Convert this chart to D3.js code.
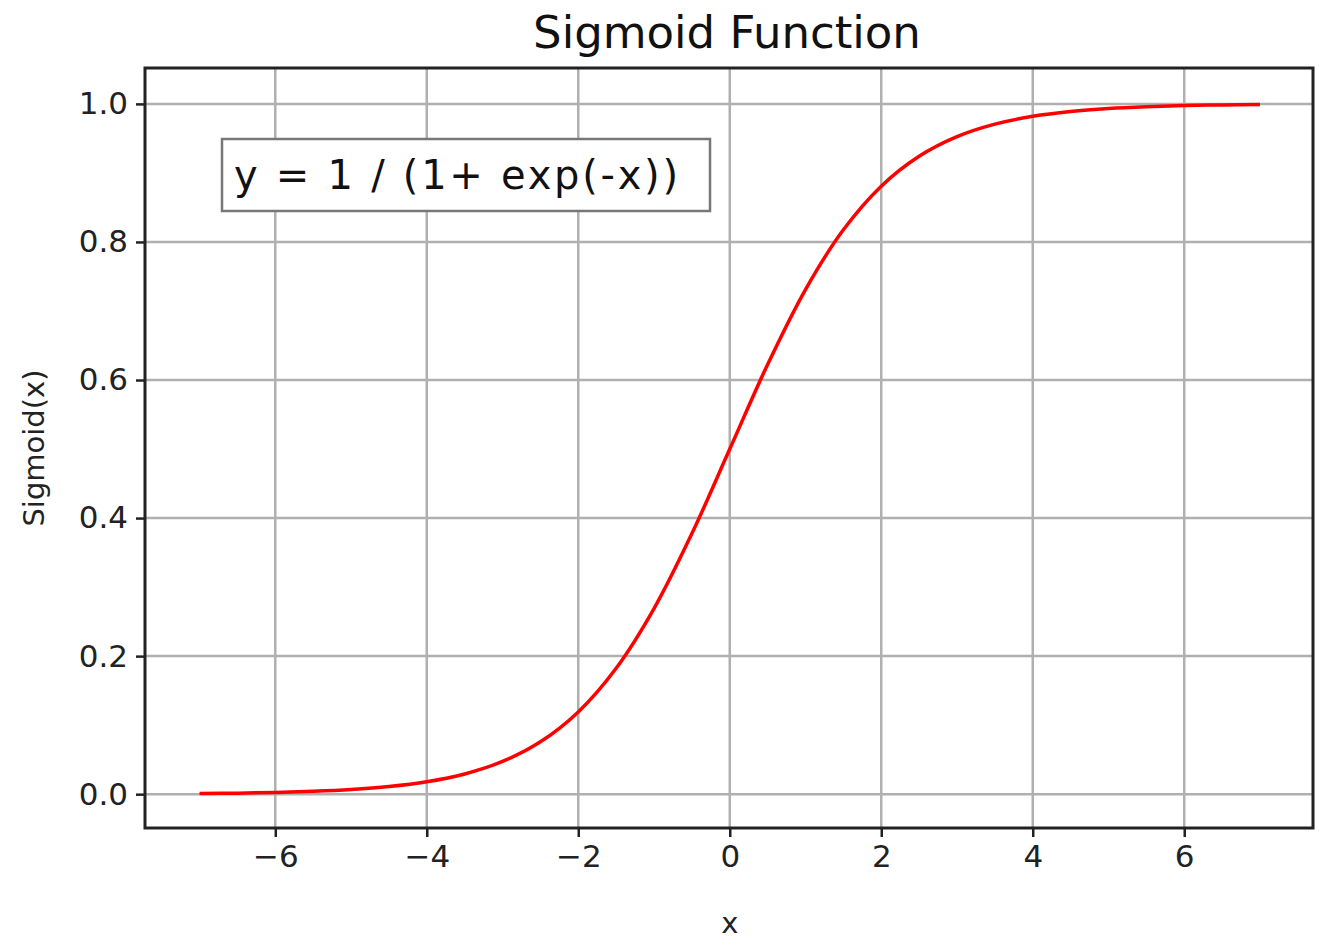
<!DOCTYPE html>
<html><head><meta charset="utf-8">
<script src="https://cdn.jsdelivr.net/npm/d3@7"></script>
<style>body{margin:0;background:#fff}</style></head>
<body><svg id="c" width="1329" height="949"></svg>
<script>
const xValues=[-7,-6.5,-6,-5.5,-5,-4.5,-4,-3.5,-3,-2.5,-2,-1.5,-1,-0.5,0,0.5,1,1.5,2,2.5,3,3.5,4,4.5,5,5.5,6,6.5,7];
const yValues=[0.0009,0.0015,0.0025,0.0041,0.0067,0.011,0.018,0.0293,0.0474,0.0759,0.1192,0.1824,0.2689,0.3775,0.5,0.6225,0.7311,0.8176,0.8808,0.9241,0.9526,0.9707,0.982,0.989,0.9933,0.9959,0.9975,0.9985,0.9991];
const xTicks=[-6,-4,-2,0,2,4,6];
const yTicks=[0,0.2,0.4,0.6,0.8,1.0];
const svg=d3.select("#c");
const L=145,R=1313,T=68,B=828;
const x=d3.scaleLinear().domain([-7.72,7.70]).range([L,R]);
const y=d3.scaleLinear().domain([-0.049,1.052]).range([B,T]);
const font="DejaVu Sans";
svg.append("g").selectAll("line").data(xTicks).join("line")
 .attr("x1",d=>x(d)).attr("x2",d=>x(d)).attr("y1",T).attr("y2",B).attr("stroke","#b0b0b0").attr("stroke-width",2.5);
svg.append("g").selectAll("line").data(yTicks).join("line")
 .attr("y1",d=>y(d)).attr("y2",d=>y(d)).attr("x1",L).attr("x2",R).attr("stroke","#b0b0b0").attr("stroke-width",2.5);
const xa=svg.append("g").attr("transform",`translate(0,${B})`).call(d3.axisBottom(x).tickValues(xTicks).tickSize(9).tickPadding(8).tickFormat(d=>d<0?"\u2212"+Math.abs(d):d));
const ya=svg.append("g").attr("transform",`translate(${L},0)`).call(d3.axisLeft(y).tickValues(yTicks).tickSize(9).tickPadding(8).tickFormat(d3.format(".1f")));
[xa,ya].forEach(a=>{a.select(".domain").remove();a.selectAll("line").attr("stroke","#222").attr("stroke-width",2.5);a.selectAll("text").attr("font-family",font).attr("font-size",31).attr("fill","#222");});
svg.append("rect").attr("x",L).attr("y",T).attr("width",R-L).attr("height",B-T).attr("fill","none").attr("stroke","#222").attr("stroke-width",3);
svg.append("path").datum(xValues.map((v,i)=>[v,yValues[i]]))
 .attr("d",d3.line().x(d=>x(d[0])).y(d=>y(d[1])).curve(d3.curveCatmullRom))
 .attr("fill","none").attr("stroke","#ff0000").attr("stroke-width",3.5);
svg.append("text").attr("x",727).attr("y",48).attr("text-anchor","middle").attr("font-family",font).attr("font-size",45).attr("fill","#111").text("Sigmoid Function");
svg.append("text").attr("x",x(0)).attr("y",933).attr("text-anchor","middle").attr("font-family",font).attr("font-size",29).attr("fill","#222").text("x");
svg.append("text").attr("transform","translate(44,448) rotate(-90)").attr("text-anchor","middle").attr("font-family",font).attr("font-size",29).attr("fill","#222").text("Sigmoid(x)");
svg.append("rect").attr("x",222).attr("y",139).attr("width",488).attr("height",72).attr("fill","#fff").attr("stroke","#777").attr("stroke-width",2.5);
svg.append("text").attr("x",234).attr("y",189).attr("font-family",font).attr("font-size",40).attr("textLength",444).attr("fill","#111").text("y = 1 / (1+ exp(-x))");
</script></body></html>
